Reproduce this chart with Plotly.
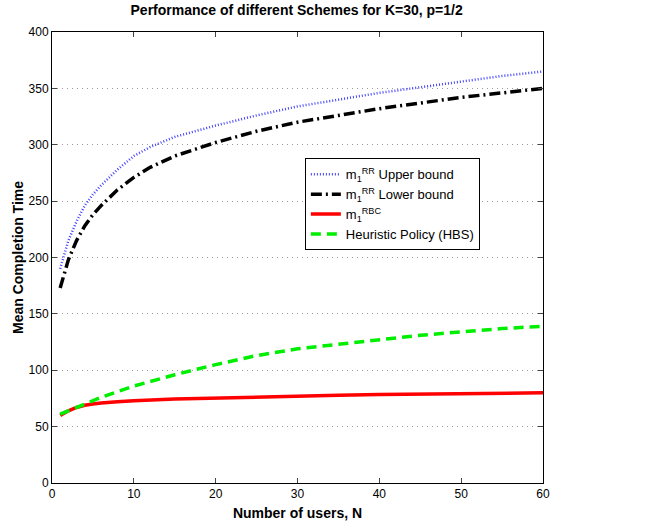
import plotly.graph_objects as go

n_rr = [1, 2, 3, 4, 5, 6, 8, 10, 12, 15, 20, 25, 30, 35, 40, 45, 50, 55, 60]
upper_rr = [190, 215, 232, 246, 256, 264, 278, 290, 298, 307, 317, 326, 334, 340, 346, 351, 356, 361, 365]
lower_rr = [173, 198, 215, 228, 238, 246, 260, 271, 280, 290, 302, 312, 320, 326, 332, 337, 342, 346, 350]

n_rbc = [1, 2, 3, 4, 5, 6, 8, 10, 15, 20, 25, 30, 35, 40, 45, 50, 55, 60]
rbc = [60, 64, 67, 69, 70, 71, 72, 73, 74.5, 75.5, 76.3, 77, 77.8, 78.4, 78.9, 79.3, 79.7, 80]
hbs = [61, 64, 67, 70, 73, 76, 81, 86, 96, 105, 113, 119, 123, 127, 131, 134, 137, 139]

x_ticks = [0, 10, 20, 30, 40, 50, 60]
y_ticks = [0, 50, 100, 150, 200, 250, 300, 350, 400]

fig = go.Figure()
fig.add_trace(go.Scatter(x=n_rr, y=upper_rr, mode="lines", line=dict(color="#4040ff", width=2.5, dash="1px,2px"),
                         name="m<sub>1</sub><sup>RR</sup> Upper bound"))
fig.add_trace(go.Scatter(x=n_rr, y=lower_rr, mode="lines", line=dict(color="black", width=3.5, dash="11px,4px,2px,4px"),
                         name="m<sub>1</sub><sup>RR</sup> Lower bound"))
fig.add_trace(go.Scatter(x=n_rbc, y=rbc, mode="lines", line=dict(color="red", width=3.5),
                         name="m<sub>1</sub><sup>RBC</sup>"))
fig.add_trace(go.Scatter(x=n_rbc, y=hbs, mode="lines", line=dict(color="#00ee00", width=3.5, dash="10px,6px"),
                         name="Heuristic Policy (HBS)"))

fig.update_layout(
    width=652, height=523,
    margin=dict(l=52, r=109, t=32, b=40, autoexpand=False),
    paper_bgcolor="white", plot_bgcolor="white",
    font=dict(family="Liberation Sans, Arial, sans-serif", size=12, color="black"),
    title=dict(text="<b>Performance of different Schemes for K=30, p=1/2</b>", x=0.455, xanchor="center",
               y=0.99, yanchor="top", font=dict(size=14)),
    legend=dict(x=0.515, y=0.72, xanchor="left", yanchor="top", bordercolor="black", borderwidth=1,
                bgcolor="white", font=dict(size=13), tracegroupgap=0),
    showlegend=True,
)
fig.update_xaxes(range=[0, 60], tickvals=x_ticks, ticks="inside", ticklen=5, showline=True, linecolor="black",
                 linewidth=1, mirror="allticks", showgrid=False, zeroline=False, automargin=False,
                 title=dict(text="<b>Number of users, N</b>", font=dict(size=14), standoff=7))
fig.update_yaxes(range=[0, 400], tickvals=y_ticks, ticks="inside", ticklen=5, showline=True, linecolor="black",
                 linewidth=1, mirror="allticks", showgrid=True, gridcolor="#999999", griddash="1px,4px", gridwidth=1,
                 zeroline=False, automargin=False,
                 title=dict(text="<b>Mean Completion Time</b>", font=dict(size=14), standoff=1))

fig.write_html("out.html", config={"displayModeBar": False},
               post_script="document.body.style.margin='0';document.body.style.overflow='hidden';")
